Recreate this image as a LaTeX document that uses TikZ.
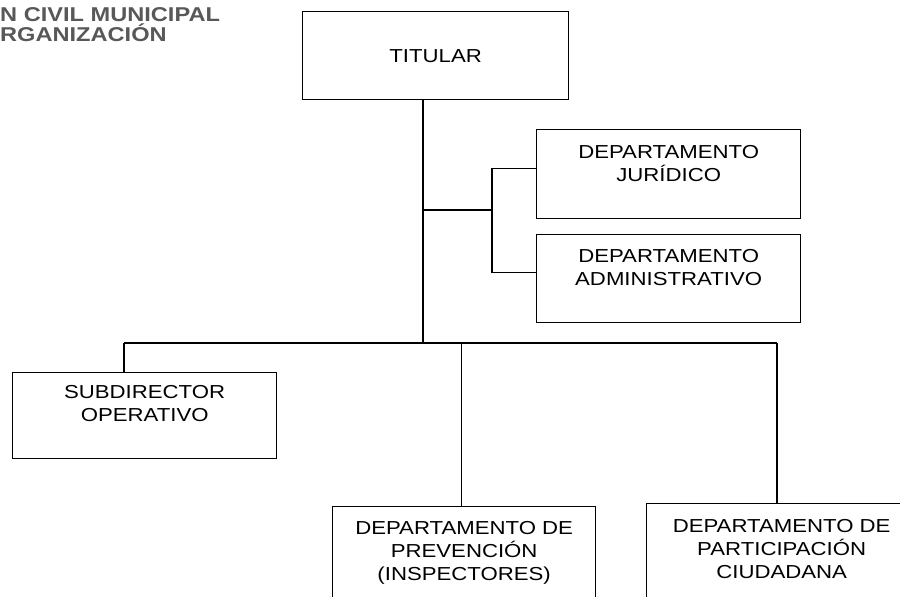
\documentclass[tikz,border=0pt]{standalone}
\usepackage{fontspec}
\setmainfont{Liberation Sans}[FakeStretch=1.18]
\usepackage{xcolor}
\usepackage{tikz}
\usetikzlibrary{positioning}

\definecolor{titlegray}{RGB}{88,88,88}

\begin{document}
\begin{tikzpicture}[
    x=1pt, y=-1pt,
    box/.style={rectangle, draw, line width=1.3pt, anchor=north west, inner sep=0pt},
    txt/.style={inner sep=0pt, align=center, font=\fontsize{18.8}{23}\selectfont},
    line/.style={line width=1.4pt}
]
    \useasboundingbox (0,0) rectangle (900,597);
    \clip (0,0) rectangle (900,597);

    % Heading (cut off at the left)
    \node[anchor=north west, inner sep=0pt, align=left, text=titlegray,
          font=\fontsize{20}{20}\selectfont\bfseries] (heading) at (0,7)
        {N CIVIL MUNICIPAL\\RGANIZACIÓN};

    % Top level
    \node[box, minimum width=266, minimum height=88, font=\fontsize{18.8}{23}\selectfont] (titular) at (302,11) {TITULAR};

    % Staff departments
    \node[box, minimum width=264, minimum height=89] (juridico) at (536,129) {};
    \node[txt, below=16pt of juridico.north] (juridicotxt) {DEPARTAMENTO\\JURÍDICO};
    \node[box, minimum width=264, minimum height=88] (admin) at (536,234) {};
    \node[txt, below=15pt of admin.north] (admintxt) {DEPARTAMENTO\\ADMINISTRATIVO};

    % Line units
    \node[box, minimum width=264, minimum height=86] (subdir) at (12,372) {};
    \node[txt, below=13pt of subdir.north] (subdirtxt) {SUBDIRECTOR\\OPERATIVO};
    \node[box, minimum width=263, minimum height=120] (prevencion) at (332,506) {};
    \node[txt, below=15pt of prevencion.north] (prevenciontxt) {DEPARTAMENTO DE\\PREVENCIÓN\\(INSPECTORES)};
    \node[box, minimum width=270, minimum height=120] (participacion) at (646,503) {};
    \node[txt, below=16pt of participacion.north] (participaciontxt) {DEPARTAMENTO DE\\PARTICIPACIÓN\\CIUDADANA};

    % Connectors
    \coordinate (bus) at (423,343);
    \coordinate (fork) at (492,210);
    \coordinate (busL) at (124,343);
    \coordinate (busR) at (777,343);

    \draw[line] (titular.south -| bus) -- (bus);
    \draw[line] (bus |- fork) -- (fork);
    \draw[line] ([yshift=5.5pt]juridico.west) -| (fork);
    \draw[line] ([yshift=6pt]admin.west) -| (fork);
    \draw[line] (busL) -- (busR);
    \draw[line] (busL) -- (busL |- subdir.north);
    \draw[line] ([xshift=-2.5pt]prevencion.north |- bus) -- ([xshift=-2.5pt]prevencion.north);
    \draw[line] (busR) -- (busR |- participacion.north);
\end{tikzpicture}
\end{document}
